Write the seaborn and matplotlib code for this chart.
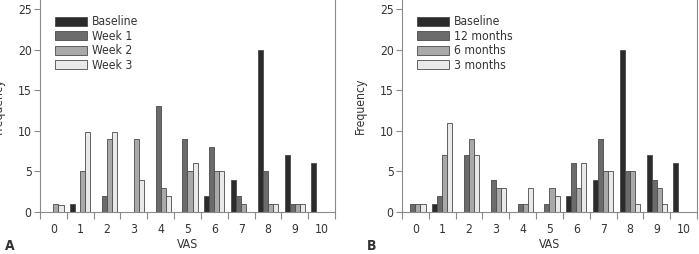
import matplotlib
matplotlib.use("Agg")
import matplotlib.pyplot as plt
import pandas as pd
import numpy as np
import seaborn as sns

vas = list(range(11))

# panel A
groups_a = ["Baseline", "Week 1", "Week 2", "Week 3"]
baseline_a = [0, 1, 0, 0, 0, 0, 2, 4, 20, 7, 6]
week1_a = [0, 0, 2, 0, 13, 9, 8, 2, 5, 1, 0]
week2_a = [1, 5, 9, 9, 3, 5, 5, 1, 1, 1, 0]
week3_a = [0.9, 9.8, 9.8, 3.9, 2, 6, 5, 0, 1, 1, 0]

# panel B
groups_b = ["Baseline", "12 months", "6 months", "3 months"]
baseline_b = [0, 1, 0, 0, 0, 0, 2, 4, 20, 7, 6]
m12_b = [1, 2, 7, 4, 1, 1, 6, 9, 5, 4, 0]
m6_b = [1, 7, 9, 3, 1, 3, 3, 5, 5, 3, 0]
m3_b = [1, 11, 7, 3, 3, 2, 6, 5, 1, 1, 0]

colors = ["#2a2a2e", "#6b6b6b", "#a9a9a9", "#e9e9e9"]
txt = "#333333"
spine = "#8a8a8a"

sns.set_style("white")
plt.rcParams["font.family"] = ["DejaVu Sans"]
plt.rcParams["font.stretch"] = "condensed"
fs = 8.7


def long_df(groups, series):
    rows = []
    for g, vals in zip(groups, series):
        for v, f in zip(vas, vals):
            rows.append({"VAS": v, "group": g, "Frequency": f})
    return pd.DataFrame(rows)


fig = plt.figure(figsize=(6.99, 2.54), dpi=100)
panels = [
    (0.0572, "A", groups_a, [baseline_a, week1_a, week2_a, week3_a]),
    (0.5751, "B", groups_b, [baseline_b, m12_b, m6_b, m3_b]),
]

for left, letter, groups, series in panels:
    ax = fig.add_axes([left, 0.165, 0.4220, 0.835])
    df = long_df(groups, series)
    sns.barplot(data=df, x="VAS", y="Frequency", hue="group", hue_order=groups,
                palette=colors, width=0.76, edgecolor="#4a4a4a", linewidth=0.6,
                ax=ax, errorbar=None, order=vas)
    ax.set_xlim(-0.5, 10.5)
    ax.set_ylim(0, 26.1)
    ax.set_yticks([0, 5, 10, 15, 20, 25])
    ax.set_xticks(vas)
    ax.set_xticks(np.arange(-0.5, 11, 1), minor=True)
    ax.tick_params(axis="x", which="major", length=0, labelsize=fs, labelcolor=txt, pad=8)
    ax.tick_params(axis="x", which="minor", length=5, width=0.8, color=spine, bottom=True)
    ax.tick_params(axis="y", length=4, width=0.8, color=spine, labelsize=fs,
                   labelcolor=txt, left=True, pad=2)
    ax.spines["top"].set_visible(False)
    for s in ax.spines.values():
        s.set_color(spine)
        s.set_linewidth(0.8)
    ax.set_xlabel("VAS", fontsize=fs, color=txt, labelpad=1)
    ax.set_ylabel("Frequency", fontsize=fs, color=txt, labelpad=9)
    leg = ax.legend(loc="upper left", bbox_to_anchor=(0.035, 0.95), frameon=False,
                    fontsize=fs, handlelength=2.6, handleheight=0.75,
                    labelspacing=0.12, handletextpad=0.45, borderaxespad=0)
    for t in leg.get_texts():
        t.set_color(txt)
    fig.text(left - 0.05, 0.015, letter, fontsize=10, fontweight="bold", color=txt)

fig.savefig("out.png", dpi=100)
